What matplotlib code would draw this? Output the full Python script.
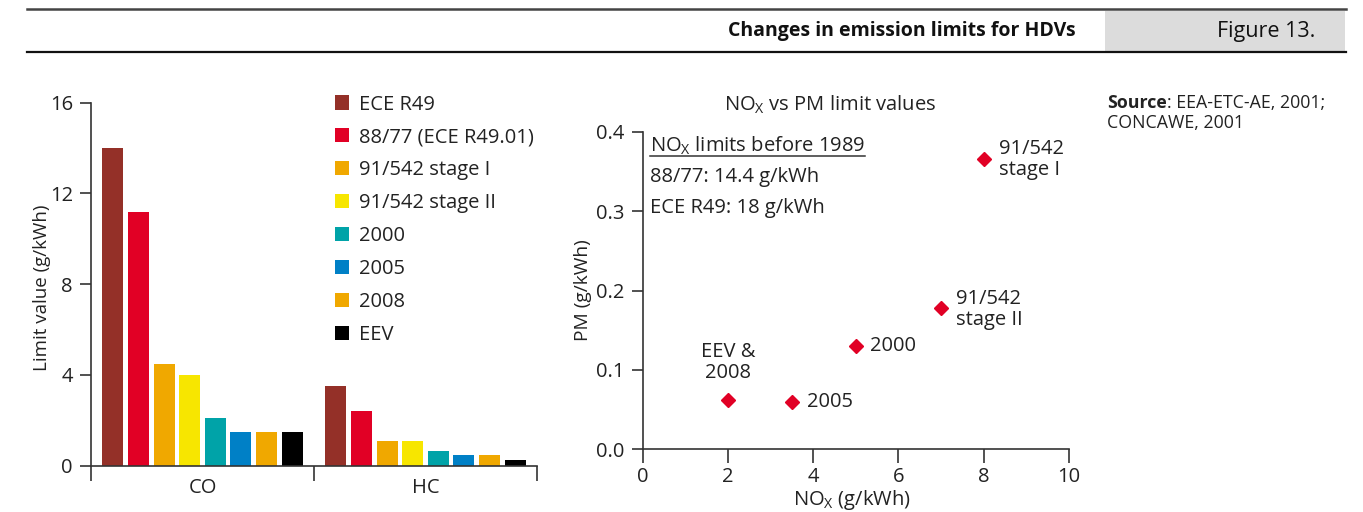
import matplotlib
matplotlib.use("Agg")
import matplotlib.pyplot as plt
import numpy as np
from matplotlib.lines import Line2D
from matplotlib.patches import Rectangle

INK = "#222222"
AXC = "#333333"
FONT = "Open Sans"
FS = 14.5

plt.rcParams.update(
    {
        "font.family": [FONT, "DejaVu Sans"],
        "font.size": FS,
        "mathtext.fontset": "custom",
        "mathtext.rm": FONT,
        "mathtext.it": FONT,
        "mathtext.bf": FONT,
        "text.color": INK,
        "axes.labelcolor": INK,
        "axes.edgecolor": AXC,
        "xtick.color": AXC,
        "ytick.color": AXC,
        "xtick.labelcolor": INK,
        "ytick.labelcolor": INK,
        "axes.linewidth": 1.2,
        "xtick.major.width": 1.2,
        "ytick.major.width": 1.2,
    }
)

# bar chart data
pollutants = ["CO", "HC"]
standards = ["ECE R49", "88/77 (ECE R49.01)", "91/542 stage I", "91/542 stage II",
             "2000", "2005", "2008", "EEV"]
co_limits = [14.0, 11.2, 4.5, 4.0, 2.1, 1.5, 1.5, 1.5]
hc_limits = [3.5, 2.4, 1.1, 1.1, 0.66, 0.46, 0.46, 0.25]
bar_colors = ["#943028", "#e10025", "#f0a800", "#f7e600",
              "#00a3a8", "#0080c6", "#f0a800", "#000000"]

# scatter data
nox = [8.0, 7.0, 5.0, 3.5, 2.0]
pm = [0.365, 0.178, 0.13, 0.06, 0.062]
point_labels = ["91/542\nstage I", "91/542\nstage II", "2000", "2005", "EEV &\n2008"]

fig = plt.figure(figsize=(13.63, 5.12), dpi=100)
W, H = 1363, 512


def fx(px):
    return px / W


def fy(py):
    return 1 - py / H


# header
fig.add_artist(Line2D([fx(27), fx(1346)], [fy(9), fy(9)], color="#444444", lw=1.8))
fig.add_artist(Rectangle((fx(1105), fy(51)), fx(240), 40 / H, color="#dcdcdc", lw=0))
fig.add_artist(Line2D([fx(27), fx(1346)], [fy(52), fy(52)], color="#111111", lw=1.6))
fig.text(fx(1076), fy(31), "Changes in emission limits for HDVs", ha="right", va="center",
         fontsize=14, fontweight="bold", color="#111111")
fig.text(fx(1315), fy(31), "Figure 13.", ha="right", va="center", fontsize=15.5, color="#111111")

# --- bar chart
ax = fig.add_axes([fx(91), fy(465.7), fx(537 - 91), (465.7 - 102.7) / H])
step = 0.1147
width = 0.094
for i, (name, color) in enumerate(zip(standards, bar_colors)):
    xs = np.arange(len(pollutants)) + 0.5 + (i - 3.5) * step
    ax.bar(xs, [co_limits[i], hc_limits[i]], width=width, color=color, label=name, lw=0)
ax.set_xlim(0, 2)
ax.set_ylim(0, 16)
ax.set_yticks([0, 4, 8, 12, 16])
ax.set_xticks([0, 1, 2])
ax.set_xticklabels([])
ax.set_xticks([0.5, 1.5], minor=True)
ax.set_xticklabels(pollutants, minor=True)
ax.tick_params(axis="x", which="major", direction="out", length=11)
ax.tick_params(axis="x", which="minor", length=0, pad=9)
ax.tick_params(axis="y", direction="out", length=8, pad=5)
for s in ["top", "right"]:
    ax.spines[s].set_visible(False)
ax.set_ylabel("Limit value (g/kWh)", fontsize=13.5)
ax.yaxis.set_label_coords((42 - 91) / 446, 0.49)
ax.yaxis.label.set_verticalalignment("center")
ax.legend(loc="upper left", bbox_to_anchor=(fx(335), fy(94.5)), bbox_transform=fig.transFigure,
          frameon=False, borderpad=0, borderaxespad=0, handlelength=0.7, handleheight=0.7,
          handletextpad=0.5, labelspacing=0.64, fontsize=FS)

# --- scatter
ax2 = fig.add_axes([fx(642.7), fy(449.3), fx(1069 - 642.7), (449.3 - 131.7) / H])
ax2.plot(nox, pm, linestyle="none", marker="D", markersize=7.5, color="#e10025", clip_on=False)
ax2.set_xlim(0, 10)
ax2.set_ylim(0, 0.4)
ax2.set_xticks([0, 2, 4, 6, 8, 10])
ax2.set_yticks([0.0, 0.1, 0.2, 0.3, 0.4])
ax2.set_yticklabels([f"{v:.1f}" for v in [0.0, 0.1, 0.2, 0.3, 0.4]])
ax2.tick_params(axis="x", direction="out", length=10, pad=3)
ax2.tick_params(axis="y", direction="out", length=8, pad=5)
for s in ["top", "right"]:
    ax2.spines[s].set_visible(False)
ax2.set_xlabel(r"NO$_{\mathrm{X}}$ (g/kWh)")
ax2.xaxis.set_label_coords(0.49, (449.3 - 505) / 317.6)
ax2.xaxis.label.set_verticalalignment("baseline")
ax2.set_ylabel("PM (g/kWh)", fontsize=13.8)
ax2.yaxis.set_label_coords((583 - 642.7) / 426.3, 0.5)
ax2.yaxis.label.set_verticalalignment("center")

offsets = [(11, 0, "left", "center"), (11, -1, "left", "center"), (10, 0, "left", "center"),
           (11, 0, "left", "center"), (0, 12, "center", "bottom")]
for x, y, lab, (dx, dy, ha, va) in zip(nox, pm, point_labels, offsets):
    ax2.annotate(lab, (x, y), xytext=(dx, dy), textcoords="offset points", ha=ha, va=va,
                 fontsize=FS, linespacing=1.1)

t = ax2.text(0.017, 0.937, r"NO$_{\mathrm{X}}$ limits before 1989", transform=ax2.transAxes,
             va="baseline", ha="left", fontsize=FS)
ax2.text(0.017, 0.843, "88/77: 14.4 g/kWh", transform=ax2.transAxes, va="baseline", fontsize=FS)
ax2.text(0.017, 0.743, "ECE R49: 18 g/kWh", transform=ax2.transAxes, va="baseline", fontsize=FS)

fig.text(fx(830), fy(105), r"NO$_{\mathrm{X}}$ vs PM limit values", ha="center", va="center", fontsize=FS)

# source
SFS = 12.8
src = fig.text(fx(1107), fy(103), "Source", ha="left", va="center", fontsize=SFS, fontweight="bold")
rest = fig.text(0, 0, ": EEA-ETC-AE, 2001;", ha="left", va="bottom", fontsize=SFS)
fig.canvas.draw()
r = fig.canvas.get_renderer()
bb = src.get_window_extent(r)
rest.set_position((bb.x1 / fig.bbox.width, bb.y0 / fig.bbox.height))
fig.text(fx(1107), fy(123), "CONCAWE, 2001", ha="left", va="center", fontsize=SFS)

# underline of the NOx heading
tb = t.get_window_extent(r)
uy = fy(156)
fig.add_artist(Line2D([tb.x0 / fig.bbox.width, tb.x1 / fig.bbox.width], [uy, uy],
                      color=AXC, lw=1.1))

fig.savefig("out.png", dpi=100)
